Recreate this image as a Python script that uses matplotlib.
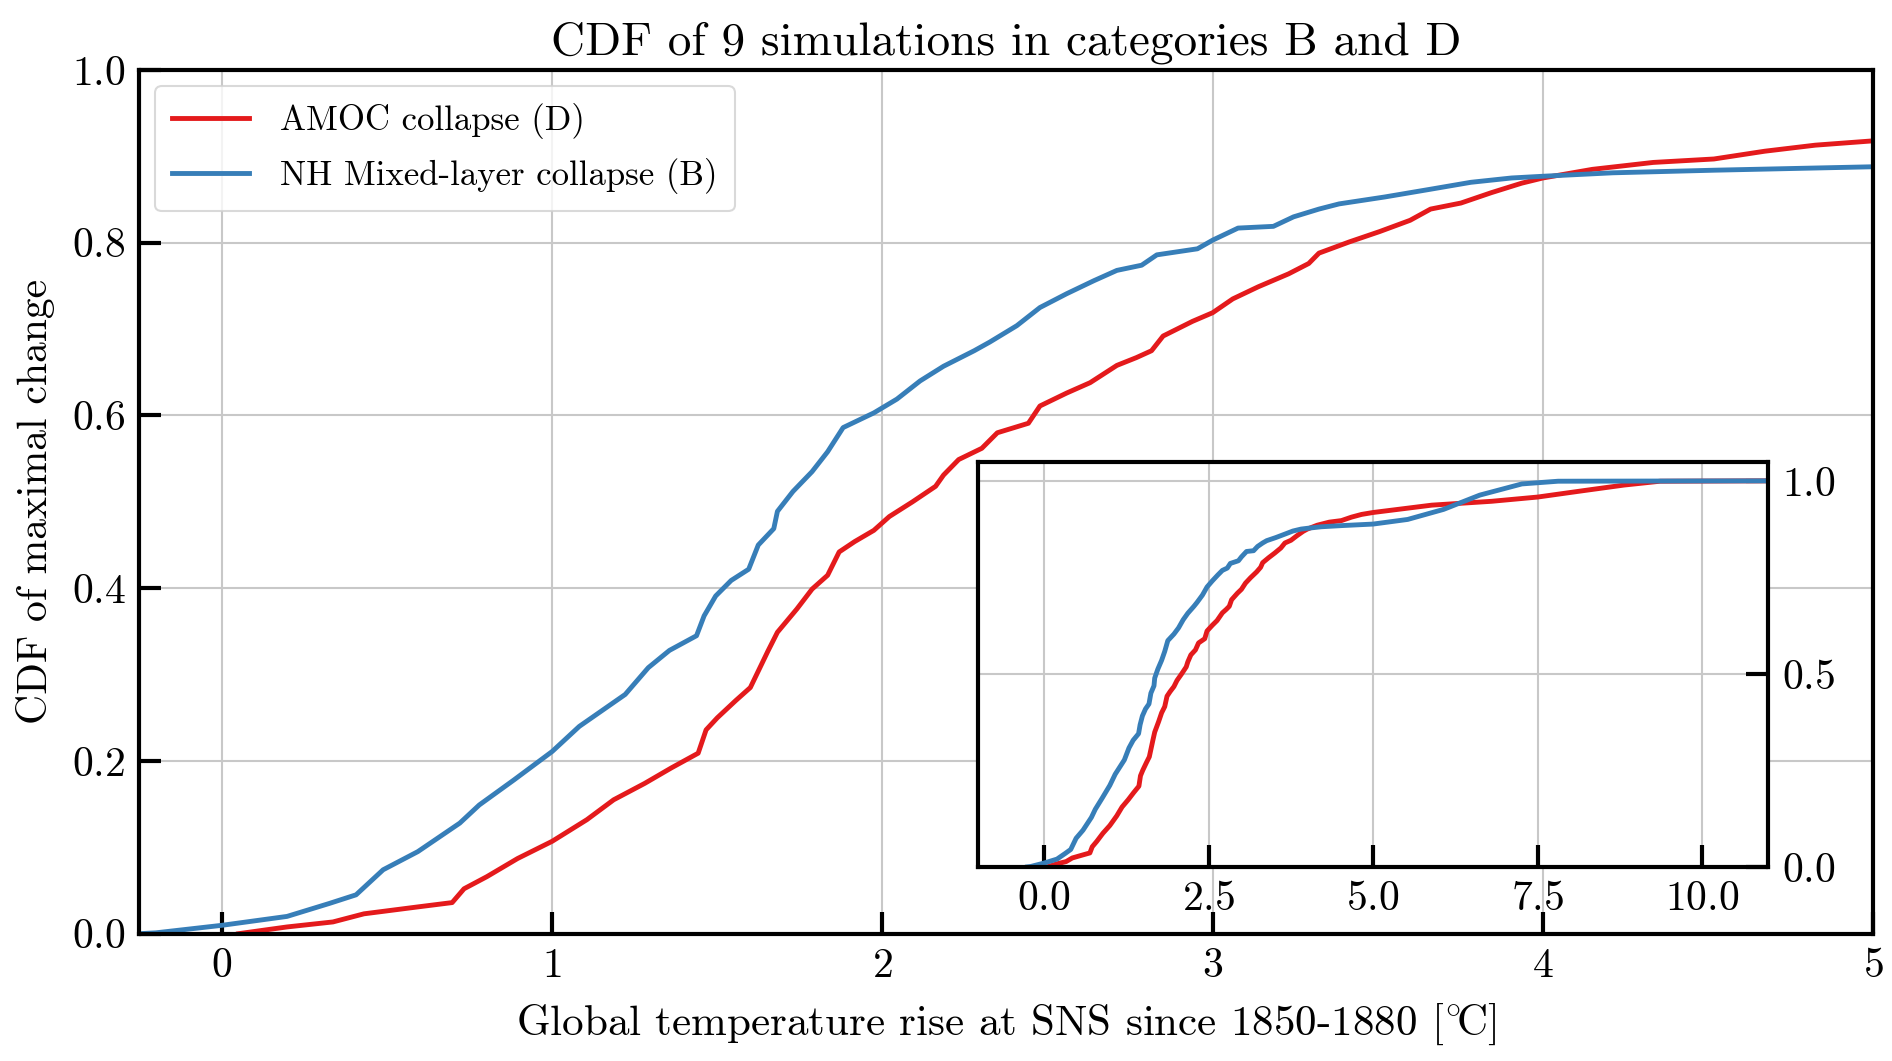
import matplotlib
matplotlib.use("Agg")
import matplotlib.pyplot as plt
import numpy as np

# Values (same CDFs in main axes and inset)
amoc_x = [0.05, 0.197, 0.336, 0.43, 0.593, 0.697, 0.733, 0.802, 0.895, 1.0,
          1.105, 1.186, 1.28, 1.361, 1.442, 1.466, 1.5, 1.556, 1.60, 1.653,
          1.682, 1.741, 1.787, 1.834, 1.869, 1.916, 1.974, 2.021, 2.091, 2.161,
          2.185, 2.231, 2.301, 2.348, 2.442, 2.477, 2.558, 2.629, 2.71, 2.769,
          2.815, 2.85, 2.939, 3.0, 3.061, 3.138, 3.23, 3.291, 3.322, 3.414,
          3.506, 3.598, 3.66, 3.752, 3.844, 3.936, 4.0, 4.15, 4.334, 4.518,
          4.672, 4.825, 5.0, 5.89, 6.8, 7.5, 8.17, 8.81, 9.36, 11.0]
amoc_cdf = [0.0, 0.0078, 0.0136, 0.023, 0.031, 0.036, 0.052, 0.066, 0.087, 0.107,
            0.132, 0.155, 0.174, 0.192, 0.209, 0.236, 0.25, 0.27, 0.285, 0.327,
            0.349, 0.376, 0.399, 0.415, 0.442, 0.454, 0.467, 0.483, 0.5, 0.518,
            0.531, 0.549, 0.562, 0.58, 0.591, 0.611, 0.626, 0.638, 0.658, 0.667,
            0.675, 0.692, 0.709, 0.719, 0.735, 0.749, 0.764, 0.776, 0.788, 0.801,
            0.813, 0.826, 0.839, 0.846, 0.858, 0.869, 0.875, 0.885, 0.893, 0.897,
            0.906, 0.913, 0.918, 0.937, 0.947, 0.958, 0.974, 0.989, 0.999, 1.0]

nh_x = [-0.25, -0.2, 0.0, 0.197, 0.325, 0.406, 0.488, 0.593, 0.72, 0.779,
        0.884, 1.0, 1.082, 1.221, 1.291, 1.355, 1.437, 1.46, 1.495, 1.542,
        1.595, 1.624, 1.671, 1.682, 1.729, 1.787, 1.834, 1.881, 1.974, 2.044,
        2.114, 2.185, 2.278, 2.325, 2.407, 2.477, 2.558, 2.64, 2.71, 2.785,
        2.831, 2.954, 3.0, 3.077, 3.184, 3.245, 3.322, 3.383, 3.521, 3.66,
        3.782, 3.905, 4.0, 4.212, 4.518, 5.0, 5.525, 6.07, 6.62, 7.26,
        7.81, 11.0]
nh_cdf = [0.0, 0.001, 0.0097, 0.020, 0.035, 0.045, 0.074, 0.095, 0.128, 0.149,
          0.178, 0.211, 0.240, 0.277, 0.308, 0.328, 0.345, 0.368, 0.391, 0.409,
          0.422, 0.45, 0.469, 0.489, 0.512, 0.535, 0.558, 0.586, 0.603, 0.619,
          0.64, 0.657, 0.675, 0.685, 0.704, 0.725, 0.741, 0.756, 0.768, 0.774,
          0.786, 0.793, 0.803, 0.817, 0.819, 0.830, 0.839, 0.845, 0.853, 0.862,
          0.870, 0.875, 0.877, 0.881, 0.884, 0.888, 0.9, 0.926, 0.963, 0.992,
          0.999, 1.0]

red = "#e41a1c"
blue = "#377eb8"

plt.rcParams["font.family"] = "serif"
plt.rcParams["font.serif"] = ["cmr10"]
plt.rcParams["mathtext.fontset"] = "cm"
plt.rcParams["axes.formatter.use_mathtext"] = True
plt.rcParams["axes.unicode_minus"] = False

fig = plt.figure(figsize=(18.92, 10.61), dpi=100)
ax = fig.add_axes([0.0737, 0.12, 0.9163, 0.814])

ax.plot(amoc_x, amoc_cdf, color=red, lw=3.5, label="AMOC collapse (D)")
ax.plot(nh_x, nh_cdf, color=blue, lw=3.5, label="NH Mixed-layer collapse (B)")
ax.set_xlim(-0.25, 5)
ax.set_ylim(0, 1)
ax.set_xticks([0, 1, 2, 3, 4, 5])
ax.set_yticks([0.0, 0.2, 0.4, 0.6, 0.8, 1.0])
ax.grid(True, color="#c8c8c8", lw=1.5)
ax.tick_params(direction="in", length=16, width=3, labelsize=30, pad=10)
for s in ax.spines.values():
    s.set_linewidth(3)
ax.set_title("CDF of 9 simulations in categories B and D", fontsize=34, pad=11)
ax.set_xlabel(r"Global temperature rise at SNS since 1850-1880 [$^{\circ}\!$C]", fontsize=31, labelpad=12)
ax.set_ylabel("CDF of maximal change", fontsize=30, labelpad=12)
leg = ax.legend(loc="upper left", fontsize=25, handlelength=2.2, handletextpad=0.9,
                borderpad=0.5, labelspacing=0.55, framealpha=0.8, borderaxespad=0.45)
leg.get_frame().set_edgecolor("#d0d0d0")
leg.get_frame().set_linewidth(1.5)

# inset with the full range
ins = fig.add_axes([0.517, 0.183, 0.4175, 0.382])
ins.plot(amoc_x, amoc_cdf, color=red, lw=3.5)
ins.plot(nh_x, nh_cdf, color=blue, lw=3.5)
ins.set_xlim(-1, 11)
ins.set_ylim(0, 1.05)
ins.set_xticks([0, 2.5, 5, 7.5, 10])
ins.set_yticks([0.0, 0.5, 1.0])
ins.yaxis.tick_right()
ins.grid(True, color="#c8c8c8", lw=1.5)
ins.tick_params(direction="in", length=16, width=3, labelsize=30, pad=10)
for s in ins.spines.values():
    s.set_linewidth(3)

plt.savefig("out.png", dpi=100)
